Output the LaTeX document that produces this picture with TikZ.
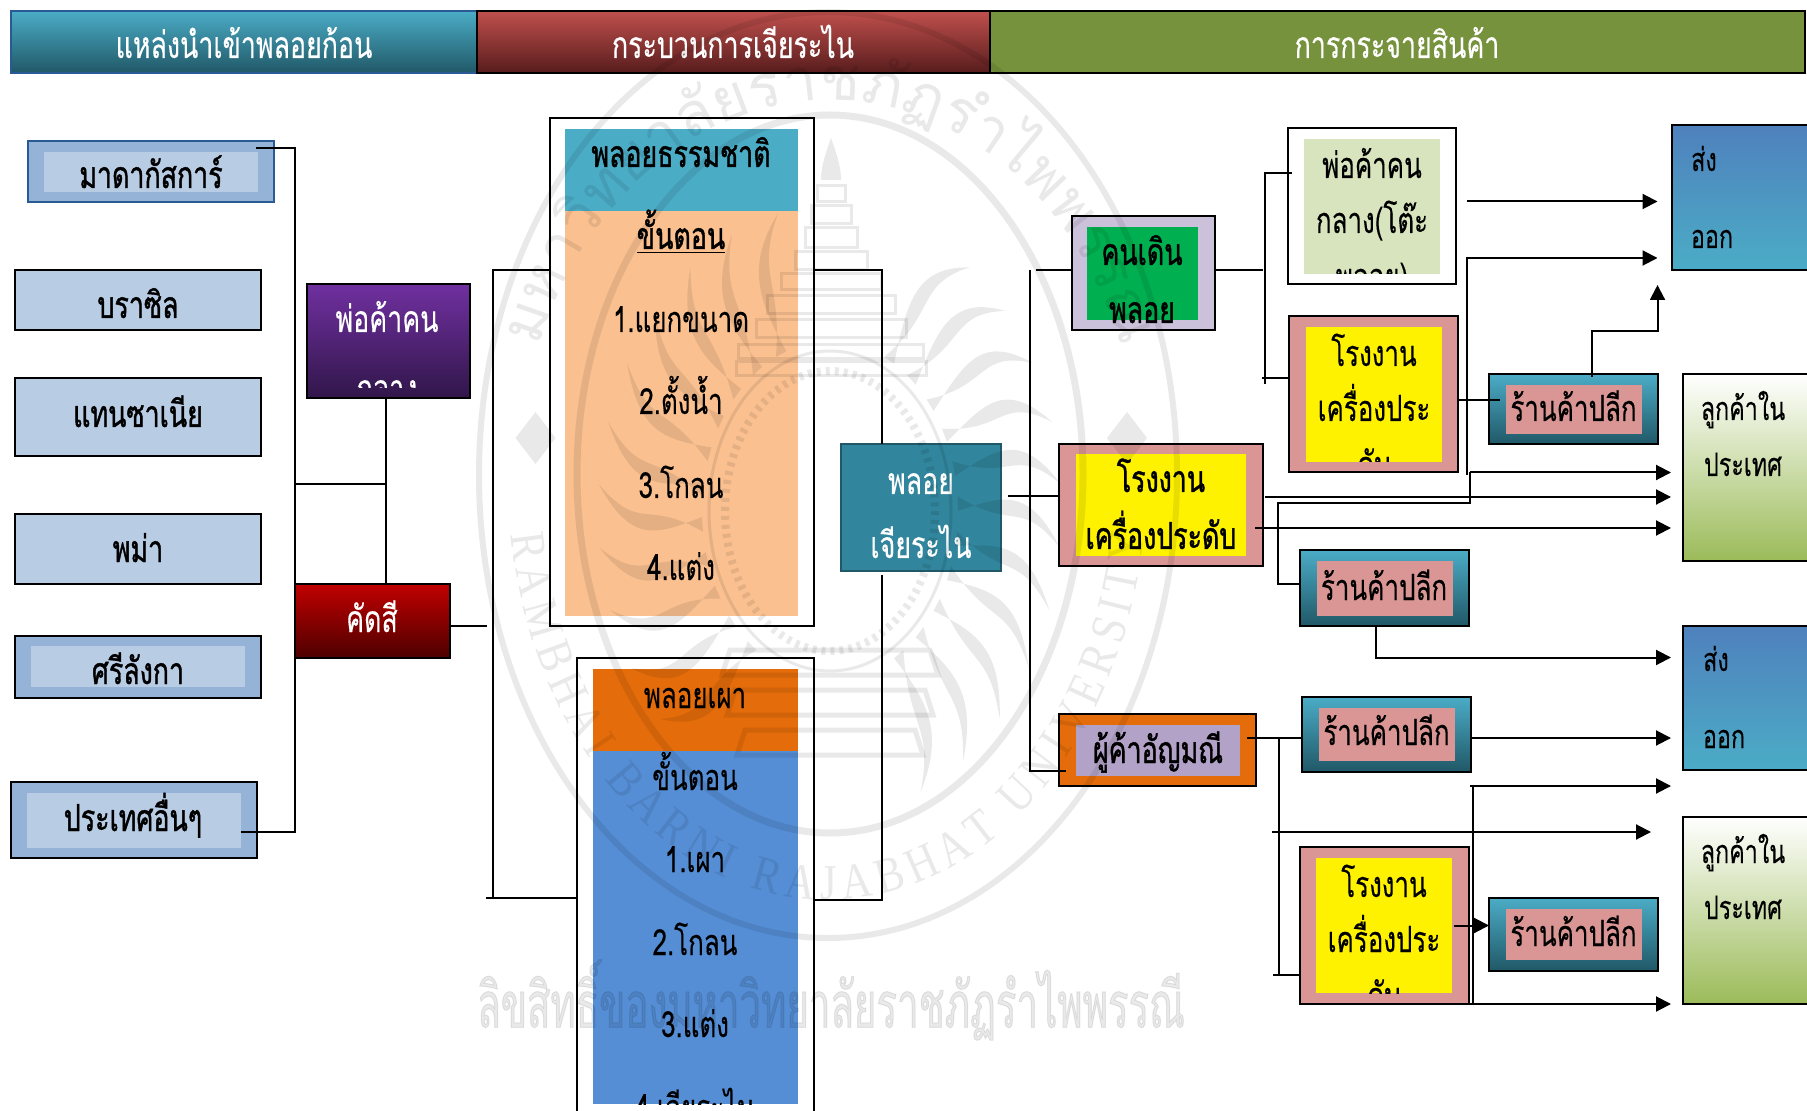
\documentclass[tikz,border=0pt]{standalone}
\usepackage{fontspec}
\usetikzlibrary{arrows.meta,decorations.text}
\newfontfamily\thaif[Script=Thai,FakeStretch=0.72,FakeBold=0.25]{Loma}
\newfontfamily\thaib[Script=Thai,FakeStretch=0.72,FakeBold=1.1]{Loma}
\newfontfamily\wmlat[FakeStretch=0.85]{Liberation Serif}
\newfontfamily\wmth{Loma}
\newfontfamily\wmthn[Script=Thai,FakeStretch=0.6,FakeBold=1.5]{Loma}
\definecolor{cteal}{HTML}{4BACC6}
\definecolor{cdteal}{HTML}{205867}
\definecolor{cpink}{HTML}{D99694}
\definecolor{cbl}{HTML}{B8CCE4}
\definecolor{cblm}{HTML}{95B3D7}
\definecolor{corg}{HTML}{E46C0A}
\definecolor{cnavy}{HTML}{2A5A94}
\definecolor{credt}{HTML}{C0504D}
\definecolor{credb}{HTML}{571C1C}
\definecolor{colive}{HTML}{76923C}
\definecolor{cputop}{HTML}{7030A0}
\definecolor{cpubot}{HTML}{31164A}
\definecolor{cdrt}{HTML}{C00000}
\definecolor{cdrb}{HTML}{4D0000}
\definecolor{cpeach}{HTML}{FAC090}
\definecolor{cblue}{HTML}{558ED5}
\definecolor{ccut}{HTML}{31859C}
\definecolor{clav}{HTML}{CCC1DA}
\definecolor{cgreen}{HTML}{00B050}
\definecolor{cpur}{HTML}{B2A2C7}
\definecolor{csage}{HTML}{D7E4BD}
\definecolor{cexp}{HTML}{4F81BD}
\definecolor{cgr}{HTML}{9BBB59}
\tikzset{
 ln/.style={draw=black,line width=1pt},
 box/.style={draw=black,line width=1pt},
 ar/.style={draw=black,line width=1pt,-{Triangle[length=7.5pt,width=7.5pt]}},
 lab/.style={font=\thaif\fontsize{18}{18}\selectfont,inner sep=0pt,anchor=base},
 lsm/.style={lab,font=\thaif\fontsize{16.2}{18}\selectfont},
 wht/.style={lab,text=white,font=\thaif\fontsize{18.6}{18}\selectfont},
 bld/.style={lab,font=\thaib\fontsize{18.6}{18}\selectfont},
 wm/.style={draw=black,line width=3pt},
}
\newcounter{tc}
% box by corners: name, x1,y1,x2,y2, style
\newcommand\bx[6]{%
 \pgfmathsetmacro\bcx{(#2+#4)/2}\pgfmathsetmacro\bcy{(#3+#5)/2}%
 \pgfmathsetmacro\bw{(#4-#2)*0.5}\pgfmathsetmacro\bh{(#5-#3)*0.5}%
 \node[#6,inner sep=0pt,outer sep=0pt,minimum width=\bw pt,minimum height=\bh pt] (#1) at (\bcx,\bcy) {};}
% text: style, x, y(body centre), text
\newcommand\tx[4]{\stepcounter{tc}\pgfmathsetmacro\tby{#3+12}\node[#1] (t\thetc) at (#2,\tby) {#4};}
% clipped text: clip node, style, x, y, text
\newcommand\cltx[5]{\begin{scope}\clip (#1.south west) rectangle (#1.north east);\tx{#2}{#3}{#4}{#5}\end{scope}}
\begin{document}
\begin{tikzpicture}[x=0.5pt,y=-0.5pt]
\useasboundingbox (0,0) rectangle (1807,1111);
% headers
\bx{h1}{10.5}{11}{477}{73}{draw=cnavy,line width=1pt,top color=cteal,bottom color=cdteal}
\bx{h2}{477}{11}{990}{73}{box,top color=credt,bottom color=credb}
\bx{h3}{990}{11}{1805}{73}{box,fill=colive}
\tx{wht}{244}{46}{แหล่งนำเข้าพลอยก้อน}
\tx{wht}{733}{46}{กระบวนการเจียระไน}
\tx{wht}{1397}{46}{การกระจายสินค้า}
% left column
\bx{mada}{27.5}{141}{274}{202}{draw=cnavy,line width=1pt,fill=cblm}
\bx{madai}{44}{152}{258}{192}{fill=cbl}
\bx{braz}{15}{270}{261}{330}{box,fill=cbl}
\bx{tanz}{15}{378}{261}{456}{box,fill=cbl}
\bx{burm}{15}{514}{261}{584}{box,fill=cbl}
\bx{sri}{15}{636}{261}{698}{box,fill=cblm}
\bx{srii}{31}{646}{245}{687}{fill=cbl}
\bx{oth}{10.5}{782}{257}{858}{box,fill=cblm}
\bx{othi}{27}{793}{241}{848}{fill=cbl}
\tx{bld}{151}{176}{มาดากัสการ์}
\tx{bld}{138}{306}{บราซิล}
\tx{bld}{138}{415}{แทนซาเนีย}
\tx{bld}{138}{550}{พม่า}
\tx{bld}{138}{672}{ศรีลังกา}
\tx{bld}{133}{819}{ประเทศอื่นๆ}
% middlemen
\bx{pk}{307}{284}{470}{398}{box,top color=cputop,bottom color=cpubot}
\bx{pkc}{307}{284}{470}{388}{}
\bx{sel}{295}{584}{450}{658}{box,top color=cdrt,bottom color=cdrb}
\tx{wht}{387}{320}{พ่อค้าคน}
\cltx{pkc}{wht}{387}{389}{กลาง}
\tx{wht}{372}{620}{คัดสี}
\coordinate (jt) at (295,148);
\coordinate (jb) at (295,832);
\coordinate (pkd) at (386,484);
\draw[ln] (256,148) -- (jt) -- (jb) -- (othi.east |- jb);
\draw[ln] (jb |- pkd) -- (pkd);
\draw[ln] (pkd |- pk.south) -- (pkd |- sel.north);
\coordinate (selr) at (487,626);
\draw[ln] (sel.east |- selr) -- (selr);
% process boxes
\bx{nat}{549.5}{118}{814}{626}{box,fill=white}
\bx{nath}{565}{129}{797.5}{211}{fill=cteal}
\bx{natb}{565}{211}{797.5}{616}{fill=cpeach}
\tx{bld}{681}{155}{พลอยธรรมชาติ}
\tx{bld}{681}{237}{\underline{ขั้นตอน}}
\tx{lab}{681}{320}{1.แยกขนาด}
\tx{lab}{681}{402}{2.ตั้งน้ำ}
\tx{lab}{681}{486}{3.โกลน}
\tx{lab}{681}{568}{4.แต่ง}
\begin{scope}
\clip (560,650) rectangle (830,1111);
\bx{burn}{576.5}{658}{814}{1125}{box,fill=white}
\end{scope}
\bx{burnh}{593}{669}{798}{751}{fill=corg}
\bx{burnb}{593}{751}{798}{1104}{fill=cblue}
\tx{lab}{695}{696}{พลอยเผา}
\tx{lab}{695}{778}{ขั้นตอน}
\tx{lab}{695}{860}{1.เผา}
\tx{lab}{695}{943}{2.โกลน}
\tx{lab}{695}{1025}{3.แต่ง}
\cltx{burnb}{lab}{695}{1108}{4.เจียระไน}
\coordinate (lv) at (493,270);
\coordinate (lb) at (486,898);
\draw[ln] (nat.west |- lv) -- (lv) -- (lv |- lb);
\draw[ln] (lb) -- (burn.west |- lb);
\bx{cut}{841}{444}{1001}{571}{draw=cdteal,line width=1pt,fill=ccut}
\tx{wht}{921}{482}{พลอย}
\tx{wht}{921}{546}{เจียระไน}
\coordinate (rt) at (882,270);
\coordinate (rb) at (882,900);
\coordinate (rc) at (882,575);
\draw[ln] (nat.east |- rt) -- (rt) -- (rt |- cut.north);
\draw[ln] (rc) -- (rb) -- (burn.east |- rb);
% distribution level 1
\bx{walk}{1072}{216}{1215}{330}{box,fill=clav}
\bx{walki}{1087}{227}{1198}{320}{fill=cgreen}
\tx{bld}{1142}{253}{คนเดิน}
\tx{bld}{1142}{311}{พลอย}
\bx{fac}{1059}{444}{1263}{566}{box,fill=cpink}
\bx{faci}{1076}{454}{1246}{556}{fill=yellow}
\tx{bld}{1161}{480}{โรงงาน}
\tx{bld}{1161}{537}{เครื่องประดับ}
\bx{gem}{1059}{714}{1256}{786}{box,fill=corg}
\bx{gemi}{1076}{725}{1240}{776}{fill=cpur}
\tx{bld}{1158}{751}{ผู้ค้าอัญมณี}
\coordinate (dvt) at (1030,270);
\coordinate (dvb) at (1030,771);
\coordinate (dvs) at (1036,270);
\coordinate (dve) at (1066,771);
\coordinate (cutr) at (1008,496.5);
\draw[ln] (dvt) -- (dvb) -- (dve);
\draw[ln] (dvs) -- (walk.west |- dvs);
\draw[ln] (cutr) -- (fac.west |- cutr);
% branch of walker
\bx{mid}{1287.5}{128}{1456}{284.5}{box,fill=white}
\bx{midi}{1304}{139}{1440}{274}{fill=csage}
\tx{lab}{1372}{166}{พ่อค้าคน}
\tx{lab}{1372}{221}{กลาง(โต๊ะ}
\cltx{midi}{lab}{1372}{277}{พลอย)}
\bx{fa}{1289}{316}{1458}{472.5}{box,fill=cpink}
\bx{fai}{1306}{327}{1442}{462}{fill=yellow}
\tx{lab}{1374}{354}{โรงงาน}
\tx{lab}{1374}{409}{เครื่องประ}
\cltx{fai}{lab}{1374}{465}{ดับ}
\coordinate (wr) at (1263,270);
\coordinate (wvt) at (1265,173.5);
\coordinate (wve) at (1292,173.5);
\coordinate (wvb) at (1265,384.5);
\coordinate (wbl) at (1261.5,378);
\draw[ln] (walk.east |- wr) -- (wr);
\draw[ln] (wve) -- (wvt) -- (wvb);
\draw[ln] (wbl) -- (fa.west |- wbl);
% retail shops
\newcommand\shop[7]{%
 \bx{#1}{#2}{#3}{#4}{#5}{draw=black,line width=1pt,top color=cteal,bottom color=cdteal}
 \pgfmathsetmacro\sxa{#2+17}\pgfmathsetmacro\sxb{#4-16}\pgfmathsetmacro\sya{#3+11}\pgfmathsetmacro\syb{#5-#6}
 \bx{#1i}{\sxa}{\sya}{\sxb}{\syb}{fill=cpink}
 \pgfmathsetmacro\sxc{(#2+#4)/2}
 \tx{lab}{\sxc}{#7}{ร้านค้าปลีก}}
\shop{s1}{1489}{374}{1658}{444.5}{10.5}{409}
\shop{s2}{1299.5}{550}{1468.5}{626}{10.5}{588}
\shop{s3}{1302}{697}{1471}{772}{11}{733}
\shop{s4}{1489}{898}{1658}{971}{11}{934}
% destinations
\newcommand\exportb[4]{%
 \bx{#1}{#2}{#3}{1815}{#4}{box,top color=cexp,bottom color=cteal}}
\newcommand\localb[3]{%
 \bx{#1}{1682.5}{#2}{1815}{#3}{box,top color=white,bottom color=cgr}}
\exportb{ex1}{1671.5}{125.5}{270}
\exportb{ex2}{1682.5}{626}{770}
\localb{lo1}{374}{561}
\localb{lo2}{816.5}{1004}
\tx{lsm}{1704}{159}{ส่ง}
\tx{lsm}{1712}{236}{ออก}
\tx{lsm}{1716}{659}{ส่ง}
\tx{lsm}{1724}{736}{ออก}
\tx{lsm}{1743}{408}{ลูกค้าใน}
\tx{lsm}{1743}{464}{ประเทศ}
\tx{lsm}{1743}{851}{ลูกค้าใน}
\tx{lsm}{1743}{907}{ประเทศ}
% factory 3
\bx{f3}{1299.5}{847}{1468.5}{1004}{box,fill=cpink}
\bx{f3i}{1316}{858}{1452}{993}{fill=yellow}
\tx{lab}{1384}{885}{โรงงาน}
\tx{lab}{1384}{940}{เครื่องประ}
\cltx{f3i}{lab}{1384}{996}{ดับ}
% arrows top right
\coordinate (a1) at (1467,201.5);
\coordinate (a2) at (1467,258);
\coordinate (a2b) at (1467,475);
\coordinate (a1e) at (1657.5,201.5);
\coordinate (a2e) at (1657.5,258);
\draw[ar] (a1) -- (a1e);
\draw[ar] (a2b) -- (a2) -- (a2e);
\coordinate (fab) at (1500,400);
\draw[ln] (fa.east |- fab) -- (fab);
\coordinate (up1) at (1592,331.5);
\coordinate (up2) at (1657.5,285);
\coordinate (up0) at (1592,377);
\draw[ar] (up0) -- (up1) -- (up2 |- up1) -- (up2);
\coordinate (ret) at (1470,472.5);
\coordinate (ret2) at (1470,503.5);
\coordinate (ret3) at (1278,503.5);
\coordinate (ret4) at (1278,584);
\coordinate (lo1w) at (1671,472.5);
\draw[ar] (ret) -- (lo1w);
\draw[ln] (ret) -- (ret2) -- (ret3) -- (ret4) -- (s2.west |- ret4);
\coordinate (a5) at (1265,497);
\coordinate (a6) at (1255,528);
\draw[ar] (a5) -- (lo1w |- a5);
\draw[ar] (a6) -- (lo1w |- a6);
\coordinate (s2b) at (1375.5,657.5);
\draw[ar] (s2.south -| s2b) -- (s2b) -- (lo1w |- s2b);
% jewel dealer
\coordinate (gs) at (1247,738);
\coordinate (gv) at (1279,738);
\coordinate (gvb) at (1279,975);
\coordinate (gvc) at (1273,975);
\draw[ln] (gs) -- (s3.west |- gv);
\draw[ln] (gv) -- (gvb);
\draw[ln] (gvc) -- (f3.west |- gvb);
\draw[ar] (s3.east |- gv) -- (lo1w |- gv);
\coordinate (b1) at (1470,786);
\coordinate (b2) at (1470,1004);
\coordinate (bv) at (1472.5,786);
\draw[ar] (b1) -- (lo1w |- b1);
\draw[ln] (bv) -- (bv |- b2);
\draw[ar] (b2) -- (lo1w |- b2);
\coordinate (c1) at (1272,832);
\coordinate (c2) at (1651,832);
\draw[ar] (c1) -- (c2);
\coordinate (d1) at (1453.5,925.5);
\draw[ar] (d1) -- (s4.west |- d1);
% watermark
\begin{scope}[opacity=.085]
\draw[wm] (828,475) ellipse [x radius=349,y radius=463];
\draw[wm,line width=3.5pt] (830,474) ellipse [x radius=253,y radius=359];
\draw[wm,line width=1.5pt] (830,511) ellipse [x radius=121,y radius=160];
\draw[wm,line width=4pt,dash pattern=on 2pt off 2.5pt] (830,511) ellipse [x radius=105,y radius=140];
\path[decorate,decoration={text along path,text align=fit to path,text={|\wmlat\fontsize{25}{25}\selectfont|RAMBHAI BARNI RAJABHAT UNIVERSITY}}]
 (511,534) arc[start angle=172,end angle=8,x radius=320,y radius=425];
\path[decorate,decoration={text along path,text align=fit to path,text={|\wmth\fontsize{30}{30}\selectfont|มหาวิทยาลัยราชภัฏรำไพพรรณี}}]
 (539,347) arc[start angle=200,end angle=340,x radius=310,y radius=375];
% stupa
\fill (831,138) .. controls (821,165) and (821,175) .. (821,180) -- (841,180) .. controls (841,175) and (841,165) .. (831,138) -- cycle;
\foreach \yy/\w/\h in {186/28/16,206/40/18,228/52/20,252/72/18,274/100/16,296/128/18,320/150/18,345/185/14,362/190/14}{
 \draw[wm,line width=1.5pt] ({831-\w/2},\yy) rectangle ({831+\w/2},{\yy+\h});}
% pedestal
\foreach \yy/\w in {650/200,690/190,730/170}{
 \draw[wm,line width=2.5pt] ({830-\w/2},\yy) -- ({830+\w/2},\yy) -- ({830+\w/2+8},{\yy+25}) -- ({830-\w/2-8},{\yy+25}) -- cycle;}
% rays
\foreach \a in {125,137,149,161,173,185,197,209,221,233,245,295,307,319,331,343,355,7,19,31,43,55}{
 \fill ({830+128*cos(\a)},{511+170*sin(\a)})
  .. controls ({830+185*cos(\a+10)},{511+240*sin(\a+10)}) and ({830+190*cos(\a+2)},{511+255*sin(\a+2)})
  .. ({830+232*cos(\a+12)},{511+305*sin(\a+12)})
  .. controls ({830+200*cos(\a)},{511+270*sin(\a)}) and ({830+175*cos(\a+1)},{511+230*sin(\a+1)})
  .. ({830+128*cos(\a+5)},{511+170*sin(\a+5)}) -- cycle;}
% flowers
\foreach \xx in {535.5,1127}{
 \fill (\xx,412) -- ({\xx+20},438) -- (\xx,464) -- ({\xx-20},438) -- cycle;}
\node[font=\wmthn\fontsize{32}{32}\selectfont,inner sep=0pt] (wmt) at (831,1000) {ลิขสิทธิ์ของมหาวิทยาลัยราชภัฏรำไพพรรณี};
\end{scope}
\end{tikzpicture}
\end{document}
